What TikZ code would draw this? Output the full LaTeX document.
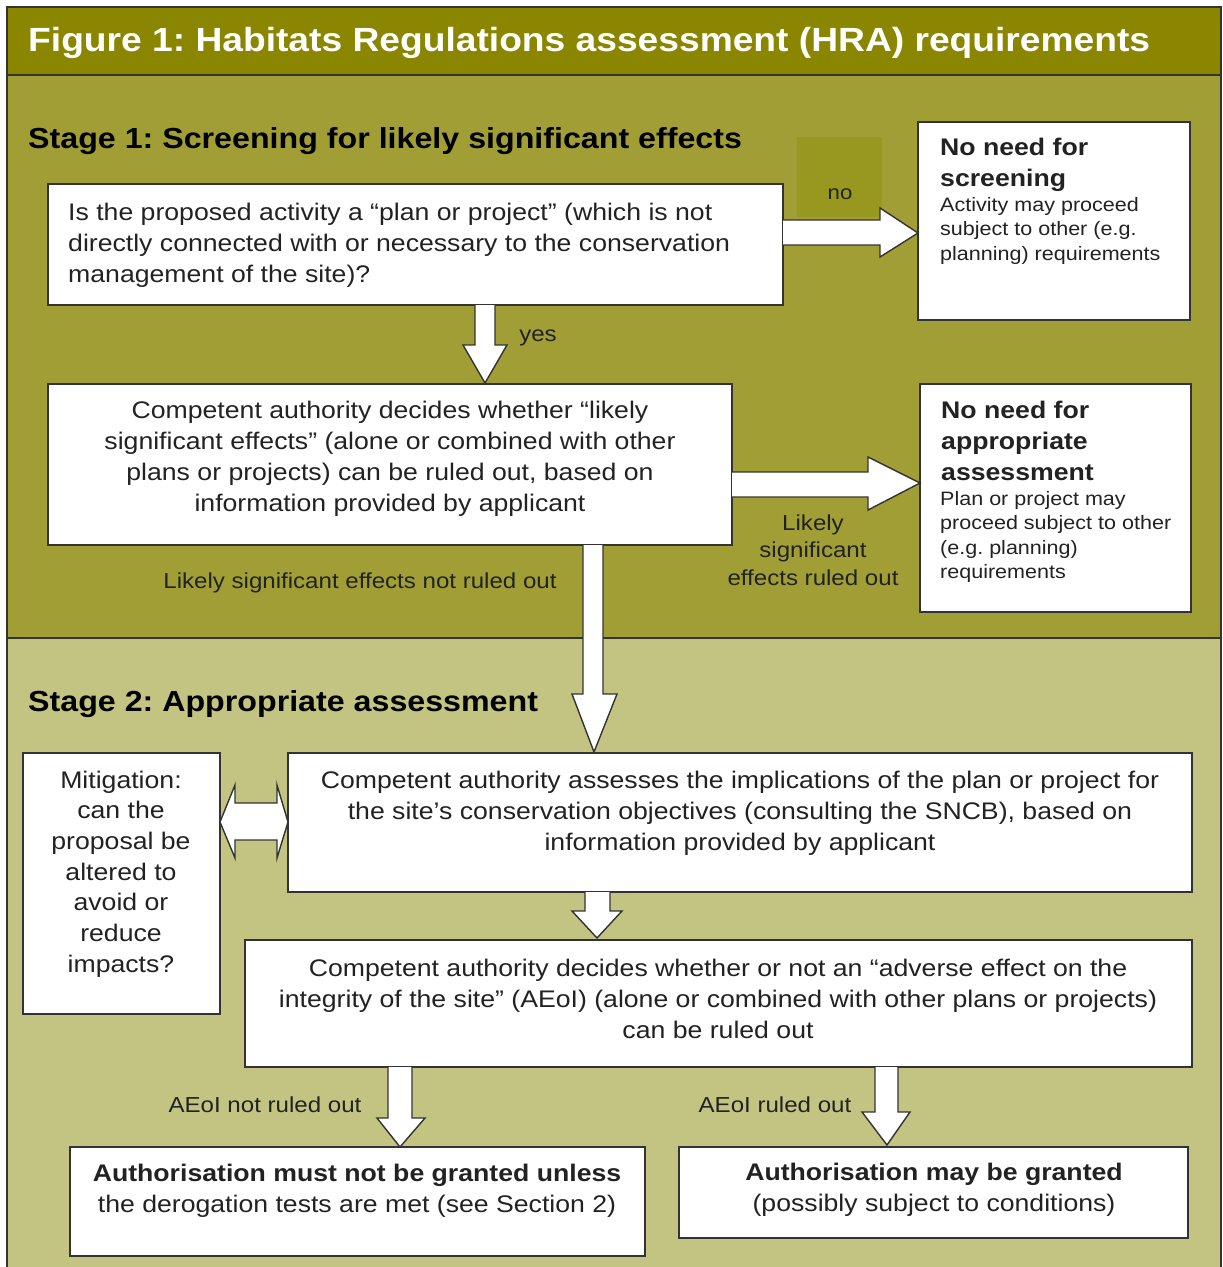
\documentclass[tikz,border=0pt]{standalone}
\usepackage{fontspec}
\setmainfont{Liberation Sans}[FakeStretch=1.11]
\usetikzlibrary{calc}
\definecolor{titlec}{HTML}{8A8600}
\definecolor{stageone}{HTML}{A09E34}
\definecolor{stagetwo}{HTML}{C3C382}
\definecolor{noc}{HTML}{989720}
\definecolor{edge}{HTML}{333333}
\definecolor{txt}{HTML}{222222}
\frenchspacing
\begin{document}
\begin{tikzpicture}[x=1pt,y=-1pt,
  box/.style={draw=edge, line width=1.6pt, fill=white, inner sep=0pt, outer sep=0pt, anchor=north west},
  barrow/.style={draw=edge, line width=1.4pt, fill=white, line join=miter},
  body/.style={text=txt, font=\fontsize{24}{31}\selectfont, align=center, inner sep=0pt},
  lbl/.style={text=txt, font=\fontsize{21.7}{27.5}\selectfont, align=center, inner sep=0pt},
  sidehead/.style={text=txt, font=\bfseries\fontsize{24}{31}\selectfont, align=left, inner sep=0pt, anchor=north west},
  sidebody/.style={text=txt, font=\fontsize{19.4}{24.5}\selectfont, align=left, inner sep=0pt, anchor=north west},
  stagehead/.style={text=black, font=\bfseries\fontsize{29}{31}\selectfont, inner sep=0pt, anchor=west}]
\useasboundingbox (0,0) rectangle (1223,1267);
\fill[white] (0,0) rectangle (1223,1267);
% bands
\fill[stagetwo] (7,638) rectangle (1221,1267);
\fill[stageone] (7,75) rectangle (1221,638);
\fill[titlec] (7,7) rectangle (1221,75);
\draw[edge, line width=1.5pt] (7,1267) -- (7,7) -- (1221,7) -- (1221,1267);
\draw[edge, line width=2.5pt] (7,75) -- (1221,75);
\draw[edge, line width=1.5pt] (7,638) -- (1221,638);
\node[text=white, font=\bfseries\fontsize{33.5}{36}\selectfont, inner sep=0pt, anchor=west] (title) at (28,43) {Figure 1: Habitats Regulations assessment (HRA) requirements};
% stage 1
\node[stagehead] (s1) at (28,141) {Stage 1: Screening for likely significant effects};
\fill[noc] (797,137) rectangle (882,217);
\node[lbl, font=\fontsize{20}{24}\selectfont] (no) at (840,194) {no};
\node[box, minimum width=735, minimum height=121] (q1) at (48,184) {};
\node[body, align=left, anchor=west] (q1t) at (68,245) {Is the proposed activity a “plan or project” (which is not\\directly connected with or necessary to the conservation\\management of the site)?};
\node[box, minimum width=272, minimum height=198] (scr) at (918,122) {};
\node[sidehead] (scrh) at (940,138) {No need for\\screening};
\node[sidebody] (scrb) at (940,197) {Activity may\ proceed\\subject to other (e.g.\\planning) requirements};
\draw[barrow] (q1.east |- 0,220) -- (880,220) -- (880,208) -- (scr.west |- 0,233) -- (880,257) -- (880,245) -- (q1.east |- 0,245);
% yes
\draw[barrow] (475,305) -- (475,345) -- (463,345) -- (485,383) -- (507,345) -- (495,345) -- (495,305);
\node[lbl] (yes) at (538,338) {yes};
\node[box, minimum width=684, minimum height=161] (lse) at (48,384) {};
\node[body] (lset) at (390,459) {Competent authority decides whether “likely\\significant effects” (alone or combined with other\\plans or projects) can be ruled out, based on\\information provided by applicant};
\node[box, minimum width=271, minimum height=228] (naa) at (920,384) {};
\node[sidehead] (naah) at (941,401) {No need for\\appropriate\\assessment};
\node[sidebody] (naab) at (940,491) {Plan or project may\\proceed subject to other\\(e.g. planning)\\requirements};
\draw[barrow] (lse.east |- 0,472) -- (868,472) -- (868,457) -- (naa.west |- 0,483) -- (868,510) -- (868,497) -- (lse.east |- 0,497);
\node[lbl] (ro) at (813,550) {Likely\\significant\\effects ruled out};
\node[lbl] (nro) at (360,583) {Likely significant effects not ruled out};
% stage 2
\node[stagehead] (s2) at (28,704) {Stage 2: Appropriate assessment};
\node[box, minimum width=197, minimum height=261] (mit) at (23,753) {};
\node[body, font=\fontsize{24}{30.7}\selectfont] (mitt) at (121,874) {Mitigation:\\can the\\proposal be\\altered to\\avoid or\\reduce\\impacts?};
\node[box, minimum width=904, minimum height=139] (ass) at (288,753) {};
\node[body] (asst) at (740,813) {Competent authority assesses the implications of the plan or project for\\the site’s conservation objectives (consulting the SNCB), based on\\information provided by applicant};
\draw[barrow] (lse.south -| 583,0) -- (583,694) -- (572,694) -- (594,752) -- (617,694) -- (603,694) -- (lse.south -| 603,0);
\draw[barrow] (mit.east |- 0,822) -- (235,785) -- (235,803) -- (277,803) -- (277,785) -- (ass.west |- 0,822) -- (277,858) -- (277,840) -- (235,840) -- (235,858) -- cycle;
\node[box, minimum width=947, minimum height=127] (aeoi) at (245,940) {};
\node[body] (aeoit) at (718,999) {Competent authority decides whether or not an “adverse effect on the\\integrity of the site” (AEoI) (alone or combined with other plans or projects)\\can be ruled out};
\draw[barrow] (ass.south -| 585,0) -- (585,911) -- (572,911) -- (597,938) -- (622,911) -- (610,911) -- (ass.south -| 610,0);
% outcomes
\node[box, minimum width=575, minimum height=109] (refuse) at (70,1147) {};
\node[body] (refuset) at (357,1191) {\textbf{Authorisation must not be granted unless}\\the derogation tests are met (see Section 2)};
\node[box, minimum width=509, minimum height=91] (grant) at (679,1147) {};
\node[body] (grantt) at (934,1190) {\textbf{Authorisation may be granted}\\(possibly subject to conditions)};
\draw[barrow] (aeoi.south -| 388,0) -- (388,1118) -- (377,1118) -- (400,1147) -- (425,1118) -- (412,1118) -- (aeoi.south -| 412,0);
\draw[barrow] (aeoi.south -| 875,0) -- (875,1112) -- (862,1112) -- (887,1145) -- (910,1112) -- (898,1112) -- (aeoi.south -| 898,0);
\node[lbl] (nrl) at (265,1105) {AEoI not ruled out};
\node[lbl] (rl) at (775,1105) {AEoI ruled out};
\end{tikzpicture}
\end{document}
